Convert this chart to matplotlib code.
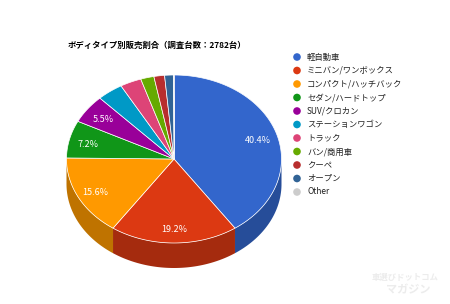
import numpy as np
import matplotlib
matplotlib.use("Agg")
import matplotlib.pyplot as plt
from matplotlib.patches import Polygon
from matplotlib.colors import to_rgb

plt.rcParams['font.family'] = ['Noto Sans CJK JP', 'DejaVu Sans']

title = 'ボディタイプ別販売割合（調査台数：2782台）'
categories = ['軽自動車', 'ミニバン/ワンボックス', 'コンパクト/ハッチバック', 'セダン/ハードトップ',
              'SUV/クロカン', 'ステーションワゴン', 'トラック', 'バン/商用車', 'クーペ', 'オープン', 'Other']
shares = [40.4, 19.2, 15.6, 7.2, 5.5, 3.9, 3.2, 2.0, 1.6, 1.3, 0.1]
colors = ['#3366cc', '#dc3912', '#ff9900', '#109618', '#990099', '#0099c6',
          '#dd4477', '#66aa00', '#b82e2e', '#316395', '#cccccc']

# pie geometry in pixels
cx, cy, rx, ry, depth = 174, 159, 107.5, 84, 25


def darker(c, f=0.75):
    r, g, b = to_rgb(c)
    return (r * f, g * f, b * f)


def arc(a0, a1, n=80, dy=0):
    t = np.radians(np.linspace(a0, a1, n))
    return np.column_stack([cx + rx * np.cos(t), cy - ry * np.sin(t) + dy])


fig = plt.figure(figsize=(4.5, 3.04), dpi=100)
ax = fig.add_axes([0, 0, 1, 1])
ax.set_xlim(0, 450)
ax.set_ylim(304, 0)
ax.axis('off')

vals = np.array(shares) / sum(shares)
ends = np.cumsum(vals)
starts = ends - vals

# side walls (front half only)
for s, e, c in zip(starts, ends, colors):
    a_hi = 90 - 360 * s
    a_lo = 90 - 360 * e
    for lo, hi in [(-180, 0), (-540, -360)]:
        lo2, hi2 = max(a_lo, lo), min(a_hi, hi)
        if hi2 > lo2:
            top = arc(lo2, hi2)
            bot = arc(hi2, lo2, dy=depth)
            ax.add_patch(Polygon(np.vstack([top, bot]), closed=True,
                                 facecolor=darker(c), edgecolor='none'))

# top faces
for s, e, c in zip(starts, ends, colors):
    a_hi = 90 - 360 * s
    a_lo = 90 - 360 * e
    pts = np.vstack([[cx, cy], arc(a_lo, a_hi)])
    ax.add_patch(Polygon(pts, closed=True, facecolor=c, edgecolor='white', linewidth=0.5))

# percentage labels on big slices
for s, e, v in zip(starts, ends, shares):
    if v < 5:
        continue
    mid = np.radians(90 - 360 * (s + e) / 2)
    f = 0.82
    ax.text(cx + rx * f * np.cos(mid), cy - ry * f * np.sin(mid) + 2, f'{v}%',
            color='white', fontsize=6.5, ha='center', va='center')

ax.text(68, 45, title, fontsize=6.0, fontweight='bold', ha='left', va='center', color='#000000')

# legend
for i, (lab, c) in enumerate(zip(categories, colors)):
    y = 57 + i * 13.5
    ax.scatter([297], [y], s=30, color=c, edgecolors='none')
    ax.text(307, y, lab, fontsize=6.0, ha='left', va='center', color='#222222')

# watermark
ax.text(405, 277, '車選びドットコム', fontsize=6, ha='center', va='center', color='#ececec', fontweight='bold')
ax.text(408, 290, 'マガジン', fontsize=8, ha='center', va='center', color='#ececec', fontweight='bold')

fig.savefig('out.png', dpi=100)
